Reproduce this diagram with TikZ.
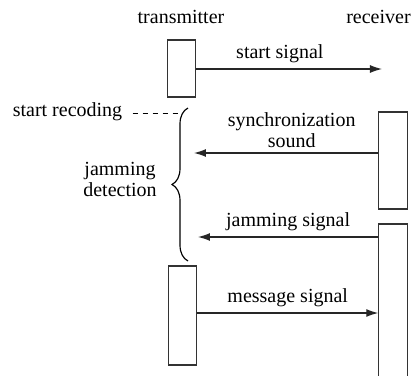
\documentclass[tikz,border=0pt]{standalone}
\usepackage{fontspec}
\setmainfont{Liberation Serif}
\usetikzlibrary{arrows.meta,positioning,decorations.pathreplacing}
\tikzset{%
  % Specifications for style of arrows:
   message/.style={
           -{Latex[length=7.2pt,width=4.8pt]},
           line width=0.7pt,
           draw=black!85},
   recline/.style={
           dashed,
           line width=0.6pt},
   bracket/.style={
           decorate,
           decoration={brace,amplitude=9.6pt,aspect=0.5},
           line width=0.7pt},
  % Specifications for style of nodes:
   base/.style = {inner sep=0pt, align=center,
                  font=\fontsize{12}{12.4}\selectfont},
   actor/.style = {base, anchor=base},
   msglabel/.style = {base, anchor=base, yshift=6.6pt},
   activation/.style = {rectangle, draw=black!80, line width=0.7pt,
                  minimum width=17pt, inner sep=0pt},
}

\begin{document}
\begin{tikzpicture}[x=0.6pt, y=-0.6pt]
  \useasboundingbox (0,0) rectangle (413,376);

  % Specification of nodes (position, etc.)
  \node (tx_label)	[actor]	at (181,23)	{transmitter};
  \node (rx_label)	[actor]	at (378.5,23)	{receiver};
  \node (tx1_block)	[activation, minimum height=34.2pt]	at (181.5,68.5)	{};
  \node (tx2_block)	[activation, minimum height=59.4pt]	at (182.5,315.5)	{};
  \node (rx1_block)	[activation, minimum height=58.2pt]	at (393,160.5)	{};
  \node (rx2_block)	[activation, minimum height=99.6pt]	at (393,307)	{};
  \node (rec_label)	[actor]	at (67.5,116)	{start recoding};
  \node (det_label)	[actor]	at (120,196)	{jamming\\detection};

  \coordinate (start_end)	at (382,69);
  \coordinate (sync_end)	at (194,153);
  \coordinate (jam_end)	at (198,237);
  \coordinate (msg_level)	at (0,313);
  \coordinate (brace_top)	at (188,108);
  \coordinate (brace_bot)	at (188,261);
  \coordinate (rec_end)	at (182,113);

  % Messages
	\draw[message]	(tx1_block.east |- start_end) -- node[msglabel, pos=.45] {start signal} (start_end);
	\draw[message]	(rx1_block.west |- sync_end) -- node[msglabel, pos=.47, yshift=-3pt] {synchronization\\sound} (sync_end);
	\draw[message]	(rx2_block.west |- jam_end) -- node[msglabel] {jamming signal} (jam_end);
	\draw[message]	(tx2_block.east |- msg_level) -- node[msglabel] {message signal} (rx2_block.west |- msg_level);

  % Recording interval
	\draw[recline]	([xshift=6pt]rec_label.east |- rec_end) -- (rec_end);
	\draw[bracket]	(brace_bot) -- (brace_top);

\end{tikzpicture}
\end{document}
